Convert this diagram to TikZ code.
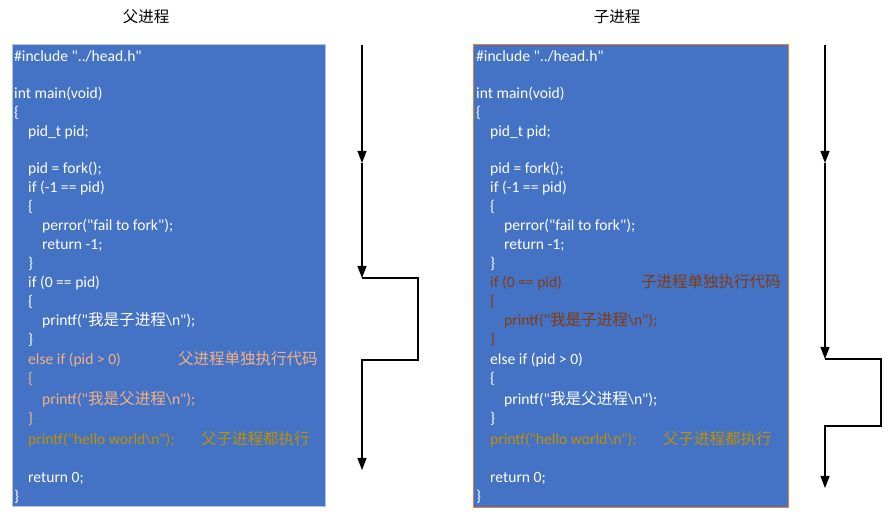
\documentclass[tikz,border=0pt]{standalone}
\usepackage{fontspec}
\usepackage{tikz}
\usetikzlibrary{arrows.meta,positioning}
\newfontfamily\codefont{Carlito}[Ligatures=TeXOff]
\newfontfamily\cjk{Noto Sans CJK SC}
\definecolor{codebg}{HTML}{4472C4}
\definecolor{leftedge}{HTML}{B4C2DE}
\definecolor{rightedge}{HTML}{ED7D31}
\definecolor{parentonly}{HTML}{F4B183}
\definecolor{childonly}{HTML}{843C0C}
\definecolor{bothrun}{HTML}{BF9000}

\tikzset{
  code/.style={anchor=base west, inner sep=0pt, text=white, font=\fontsize{15.6}{19}\selectfont\codefont},
  note/.style={anchor=base west, inner sep=0pt, font=\fontsize{15.5}{19}\selectfont\cjk},
  title/.style={anchor=base, inner sep=0pt, font=\fontsize{15.5}{19}\selectfont\cjk},
  flow/.style={line width=1.2pt, -{Triangle[length=12pt,width=9pt]}},
}

\begin{document}
\begin{tikzpicture}[x=1pt,y=-1pt]
        \useasboundingbox (0,0) rectangle (895,526);

        % Titles
        \node[title] (ptitle) at (146,23) {父进程};
        \node[title] (ctitle) at (617,23) {子进程};

        % Parent process code
        \draw[fill=codebg, draw=leftedge, line width=1pt] (12,45) rectangle (325,507);
        \node[code] (l0) at (14,62) {\#include "../head.h"};
        \node[code] (l2) at (14,99) {int main(void)};
        \node[code] (l3) at (14,118) {\{};
        \node[code] (l4) at (28,137) {pid\_t pid;};
        \node[code] (l6) at (28,174) {pid = fork();};
        \node[code] (l7) at (28,193) {if (-1 == pid)};
        \node[code] (l8) at (28,212) {\{};
        \node[code] (l9) at (42,231) {perror("fail to fork");};
        \node[code] (l10) at (42,250) {return -1;};
        \node[code] (l11) at (28,269) {\}};
        \node[code] (l12) at (28,288) {if (0 == pid)};
        \node[code] (l13) at (28,307) {\{};
        \node[code] (l14) at (42,326) {printf("{\cjk 我是子进程}\textbackslash n");};
        \node[code] (l15) at (28,345) {\}};
        \node[code, text=parentonly] (l16) at (28,365) {else if (pid > 0)};
        \node[code, text=parentonly] (l17) at (28,384) {\{};
        \node[code, text=parentonly] (l18) at (42,405) {printf("{\cjk 我是父进程}\textbackslash n");};
        \node[code, text=parentonly] (l19) at (28,424) {\}};
        \node[code, text=bothrun] (l20) at (28,445) {printf("hello world\textbackslash n");};
        \node[code] (l22) at (28,483) {return 0;};
        \node[code] (l23) at (14,502) {\}};
        \node[note, text=parentonly] (lnote) at (178,365) {父进程单独执行代码};
        \node[note, text=bothrun] (lboth) at (201,445) {父子进程都执行};

        % Child process code
        \draw[fill=codebg, draw=rightedge, line width=1pt] (473,45) rectangle (788,508);
        \node[code] (r0) at (476,62) {\#include "../head.h"};
        \node[code] (r2) at (476,99) {int main(void)};
        \node[code] (r3) at (476,118) {\{};
        \node[code] (r4) at (490,137) {pid\_t pid;};
        \node[code] (r6) at (490,174) {pid = fork();};
        \node[code] (r7) at (490,193) {if (-1 == pid)};
        \node[code] (r8) at (490,212) {\{};
        \node[code] (r9) at (504,231) {perror("fail to fork");};
        \node[code] (r10) at (504,250) {return -1;};
        \node[code] (r11) at (490,269) {\}};
        \node[code, text=childonly] (r12) at (490,288) {if (0 == pid)};
        \node[code, text=childonly] (r13) at (490,307) {\{};
        \node[code, text=childonly] (r14) at (504,326) {printf("{\cjk 我是子进程}\textbackslash n");};
        \node[code, text=childonly] (r15) at (490,345) {\}};
        \node[code] (r16) at (490,365) {else if (pid > 0)};
        \node[code] (r17) at (490,384) {\{};
        \node[code] (r18) at (504,405) {printf("{\cjk 我是父进程}\textbackslash n");};
        \node[code] (r19) at (490,424) {\}};
        \node[code, text=bothrun] (r20) at (490,445) {printf("hello world\textbackslash n");};
        \node[code] (r22) at (490,483) {return 0;};
        \node[code] (r23) at (476,502) {\}};
        \node[note, text=childonly] (rnote) at (641,288) {子进程单独执行代码};
        \node[note, text=bothrun] (rboth) at (663,445) {父子进程都执行};

        % Parent flow
        \coordinate (pA) at (362,45);
        \coordinate (pB) at (362,163);
        \coordinate (pC) at (362,278);
        \coordinate (pD) at (418,278);
        \coordinate (pE) at (418,360);
        \coordinate (pF) at (362,360);
        \coordinate (pG) at (362,470);
        \draw[flow] (pA) -- (pB);
        \draw[flow] (pB) -- (pC);
        \draw[flow] (pC) -- (pD) -- (pE) -- (pF) -- (pG);

        % Child flow
        \coordinate (cA) at (825,45);
        \coordinate (cB) at (825,163);
        \coordinate (cC) at (825,359);
        \coordinate (cD) at (881,359);
        \coordinate (cE) at (881,426);
        \coordinate (cF) at (825,426);
        \coordinate (cG) at (825,488);
        \draw[flow] (cA) -- (cB);
        \draw[flow] (cB) -- (cC);
        \draw[flow] (cC) -- (cD) -- (cE) -- (cF) -- (cG);
    \end{tikzpicture}
\end{document}
